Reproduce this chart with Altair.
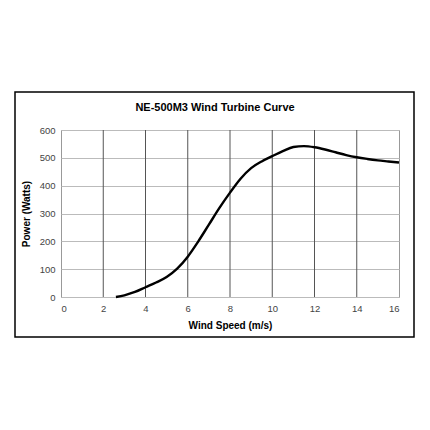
import altair as alt
import pandas as pd

wind_speed = [2.6, 3.0, 3.5, 4.0, 4.5, 5.0, 5.5, 6.0, 6.5, 7.0, 7.5, 8.0, 8.5, 9.0, 9.5, 10.0, 10.5, 11.0, 11.5, 12.0, 12.5, 13.0, 13.5, 14.0, 14.5, 15.0, 15.5, 16.0]
power = [0, 6, 18, 35, 52, 72, 102, 145, 200, 260, 320, 375, 425, 463, 487, 506, 524, 539, 542, 538, 530, 520, 510, 502, 496, 491, 487, 483]

df = pd.DataFrame({"speed": wind_speed, "power": power})

frame = alt.Chart(pd.DataFrame({"a": [0]})).mark_rect(
    fillOpacity=0, stroke="black", strokeWidth=1.5, clip=False
).encode(
    x=alt.value(-46), x2=alt.value(353), y=alt.value(-38), y2=alt.value(207)
)

vgrid = alt.Chart(pd.DataFrame({"g": [2, 4, 6, 8, 10, 12, 14]})).mark_rule(
    color="#555", strokeWidth=1
).encode(x=alt.X("g:Q", scale=alt.Scale(domain=[0, 16])))

line = alt.Chart(df).mark_line(
    color="black", strokeWidth=2.4, interpolate="monotone"
).encode(
    x=alt.X("speed:Q", scale=alt.Scale(domain=[0, 16], nice=False),
            axis=alt.Axis(values=[0, 2, 4, 6, 8, 10, 12, 14, 16], grid=False, ticks=False,
                          domain=False, labelPadding=6, title="Wind Speed (m/s)",
                          titlePadding=8)),
    y=alt.Y("power:Q", scale=alt.Scale(domain=[0, 600], nice=False),
            axis=alt.Axis(values=[0, 100, 200, 300, 400, 500, 600], grid=True, gridColor="#bbbbbb",
                          ticks=False, domain=False, labelPadding=6, title="Power (Watts)",
                          titlePadding=8)),
)

chart = alt.layer(frame, vgrid, line).properties(
    width=338, height=167,
    title=alt.TitleParams("NE-500M3 Wind Turbine Curve", anchor="middle", offset=-22,
                          dx=-15, fontSize=11, fontWeight="bold",
                          font="Liberation Sans", color="black"),
    autosize=alt.AutoSizeParams(type="none"),
    padding={"left": 53, "top": 122, "right": 20, "bottom": 60},
).configure_view(
    stroke="#999999", strokeWidth=1
).configure_axis(
    labelFont="Liberation Sans", labelFontSize=9.5, labelColor="#444",
    titleFont="Liberation Sans", titleFontSize=10, titleFontWeight="bold", titleColor="black",
)

chart.save("out.html", embed_options={"renderer": "svg", "actions": False})
